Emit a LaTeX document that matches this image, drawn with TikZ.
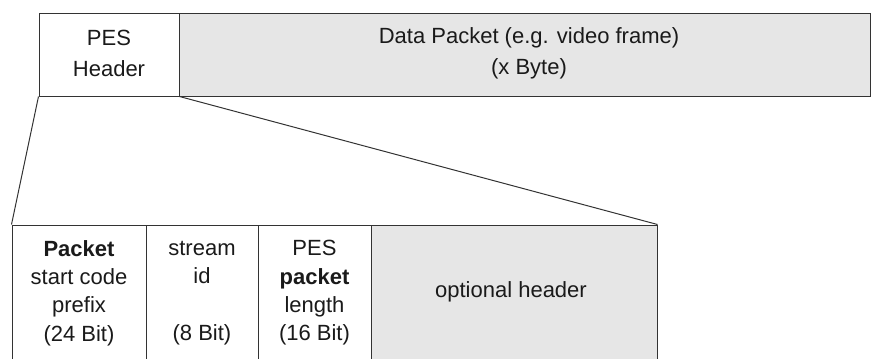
\documentclass[tikz,border=0pt]{standalone}
\usepackage{fontspec}
\setmainfont{Liberation Sans}
\definecolor{framegray}{HTML}{333333}
\definecolor{cellgray}{HTML}{E6E6E6}
\definecolor{inkgray}{HTML}{1A1A1A}
\begin{document}
\begin{tikzpicture}[x=1pt,y=-1pt,
  box/.style={draw=framegray,line width=1pt,inner sep=0pt,anchor=center},
  blank/.style={box,fill=white},
  shaded/.style={box,fill=cellgray},
  toptext/.style={text=inkgray,align=center,font=\fontsize{22}{31}\selectfont},
  bottext/.style={text=inkgray,align=center,font=\fontsize{22}{28.3}\selectfont},
  link/.style={draw=framegray,line width=1pt}]
  \useasboundingbox (0,0) rectangle (871,359);
  \clip (0,0) rectangle (871,359);

  % PES packet: header and payload
  \node[blank,minimum width=140pt,minimum height=83pt] (hdr) at (109,54.5) {};
  \node[shaded,minimum width=691pt,minimum height=83pt] (data) at (524.5,54.5) {};
  \node[toptext] (hdrtxt) at (109,53) {PES\\Header};
  \node[toptext] (datatxt) at (529,53) {Data Packet (e.g. video frame)\\(x Byte)};

  % header fields, open at the bottom
  \node[blank,minimum width=134pt,minimum height=150pt] (c1) at (79,300) {};
  \node[blank,minimum width=112pt,minimum height=150pt] (c2) at (202,300) {};
  \node[blank,minimum width=113pt,minimum height=150pt] (c3) at (314.5,300) {};
  \node[shaded,minimum width=286pt,minimum height=150pt] (opt) at (514,300) {};

  \node[bottext] (c1txt) at (79,293) {\textbf{Packet}\\start code\\prefix\\(24 Bit)};
  \node[bottext] (c2txt) at (202,293) {stream\\id\\~\\(8 Bit)};
  \node[bottext] (c3txt) at (314.5,293) {PES\\\textbf{packet}\\length\\(16 Bit)};
  \node[bottext] (opttxt) at (511,292) {optional header};

  % expansion lines from the header to its fields
  \draw[link] (hdr.south west) -- (c1.north west);
  \draw[link] (hdr.south east) -- (opt.north east);
\end{tikzpicture}
\end{document}
